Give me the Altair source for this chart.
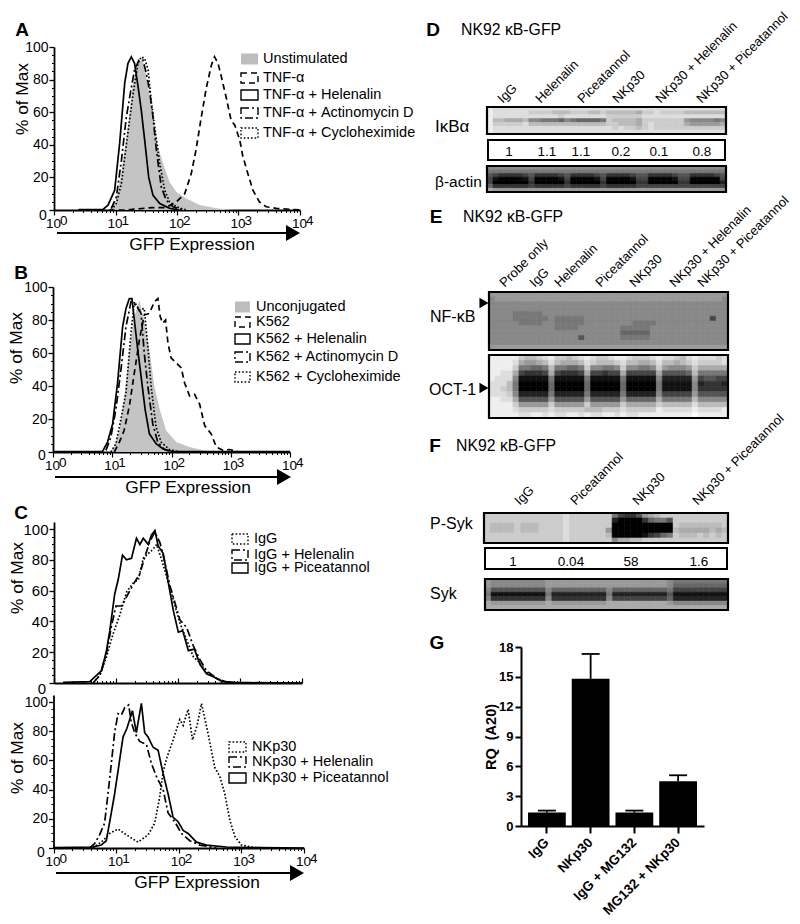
import altair as alt
import pandas as pd

FONT = "Liberation Sans"
W, H = 784, 908
GRAY = "#c4c4c4"
SOLID, DASH, DASHDOT, DOT = [], [6, 4], [8, 3, 2, 3], [1.6, 2]

# ---------- flow histograms: position in decades of GFP, % of max ----------
A_un_d = [0, .88, .95, 1.01, 1.09, 1.20, 1.285, 1.366, 1.436, 1.50, 1.555, 1.62, 1.69, 1.77, 1.88, 1.99, 2.15, 2.37, 2.64, 2.91, 4]
A_un_v = [0, 0, 2, 6, 22, 50, 78, 90, 93, 82, 70, 53, 39, 29, 17, 11, 7, 3, 1, 0, 0]
A_tnf_d = [.4, 1.2, 1.3, 1.6, 1.8, 1.9, 1.99, 2.125, 2.23, 2.31, 2.395, 2.477, 2.56, 2.61, 2.667, 2.72, 2.80, 2.88, 2.94, 3.02, 3.07, 3.155, 3.236, 3.34, 3.45, 3.615, 4.0]
A_tnf_v = [0, 0, .5, 1.5, 1.5, 3, 5, 10, 22, 37, 57, 75, 89, 94, 90, 82, 69, 55, 52, 43, 33, 22, 12, 5, 2, 1, 0]
A_hel_d = [.4, .797, .878, .986, 1.068, 1.15, 1.203, 1.257, 1.31, 1.366, 1.42, 1.474, 1.54, 1.61, 1.72, 1.88, 2.04]
A_hel_v = [.2, .4, 3, 12, 41, 78, 90, 94, 90, 76, 61, 43, 20, 9, 4, 1, 0]
A_act_d = [.932, 1.014, 1.095, 1.176, 1.257, 1.31, 1.382, 1.447, 1.50, 1.555, 1.61, 1.664, 1.745, 1.826, 1.935, 2.10]
A_act_v = [1, 8, 30, 57, 75, 86, 92, 92, 84, 73, 57, 37, 14, 6, 2, 0]
A_chx_d = [.932, 1.014, 1.095, 1.20, 1.285, 1.366, 1.42, 1.474, 1.53, 1.58, 1.637, 1.718, 1.80, 1.88, 1.99, 2.15]
A_chx_v = [0, 4, 16, 47, 71, 90, 94, 93, 86, 67, 51, 29, 12, 5, 2, 0]

B_un_d = [0, .95, 1.034, 1.12, 1.20, 1.29, 1.373, 1.458, 1.54, 1.627, 1.71, 1.80, 1.91, 2.08, 2.305, 2.53, 2.70, 4]
B_un_v = [0, 0, 3, 13, 32, 62, 82, 92, 80, 62, 40, 26, 13, 6, 3, 1, 0, 0]
B_k_d = [1.034, 1.12, 1.20, 1.29, 1.373, 1.458, 1.54, 1.627, 1.71, 1.77, 1.81, 1.853, 1.90, 1.94, 1.994, 2.08, 2.164, 2.22, 2.305, 2.39, 2.475, 2.56, 2.67, 2.757, 2.87, 2.983, 3.15, 4]
B_k_v = [0, 6, 13, 28, 48, 68, 83, 84, 91, 93, 82, 78, 80, 66, 57, 54, 51, 42, 34, 35, 29, 16, 11, 3, 1, 1.5, 0, 0]
B_hel_d = [0, .836, .92, 1.006, 1.09, 1.175, 1.232, 1.288, 1.333, 1.373, 1.43, 1.486, 1.554, 1.627, 1.74, 1.853, 2.02, 4]
B_hel_v = [.3, .3, 6, 17, 42, 76, 87, 93, 93, 80, 62, 46, 26, 11, 5, 2, .3, .3]
B_act_d = [.893, .977, 1.062, 1.147, 1.232, 1.316, 1.40, 1.486, 1.54, 1.60, 1.684, 1.768, 1.88, 2.02]
B_act_v = [1, 9, 26, 50, 76, 91, 89, 84, 60, 40, 17, 6, 1.5, 0]
B_chx_d = [.977, 1.062, 1.147, 1.232, 1.316, 1.373, 1.458, 1.54, 1.60, 1.655, 1.74, 1.825, 1.966, 2.136]
B_chx_v = [0, 5, 20, 36, 72, 91, 86, 87, 64, 40, 15, 6, 1.5, 0]

C1_igg_d = [.63, .74, .846, .954, 1.06, 1.17, 1.278, 1.36, 1.44, 1.52, 1.60, 1.655, 1.736, 1.817, 1.925, 2.03, 2.14, 2.248, 2.356, 2.46, 2.625, 2.787, 3.0]
C1_igg_v = [0, 5, 17, 32, 44, 59, 65, 67, 81, 84, 87, 90, 80, 69, 54, 39, 28, 17, 13, 7, 3, .5, 0]
C1_hel_d = [.63, .74, .846, .927, 1.0, 1.09, 1.17, 1.278, 1.385, 1.466, 1.547, 1.628, 1.71, 1.79, 1.871, 1.952, 2.03, 2.14, 2.248, 2.356, 2.46, 2.625, 2.787, 3.0]
C1_hel_v = [0, 5, 19, 37, 50, 50, 56, 64, 71, 82, 92, 98, 91, 78, 63, 52, 41, 36, 24, 15, 8, 3, .5, 0]
C1_pic_d = [.146, .577, .685, .766, .846, .90, .98, 1.035, 1.105, 1.17, 1.25, 1.33, 1.385, 1.44, 1.52, 1.57, 1.628, 1.68, 1.763, 1.844, 1.925, 2.005, 2.075, 2.167, 2.264, 2.356, 2.46, 2.57, 2.706, 2.895, 3.164, 4]
C1_pic_v = [.4, .9, 5, 8, 21, 34, 58, 67, 83, 80, 81, 94, 90, 94, 90, 96, 99, 89, 84, 65, 47, 33, 34, 21, 22, 12, 6, 4, 1, .4, .2, 0]

C2_nk_d = [.63, .79, .896, 1.03, 1.163, 1.35, 1.51, 1.616, 1.696, 1.75, 1.803, 1.91, 2.016, 2.07, 2.15, 2.22, 2.293, 2.363, 2.47, 2.576, 2.656, 2.736, 2.816, 2.896, 3.0, 3.19, 3.40]
C2_nk_v = [0, 5, 10, 13, 9, 4, 9, 17, 35, 52, 61, 74, 88, 84, 95, 74, 84, 99, 78, 55, 49, 37, 19, 8, 2, .4, 0]
C2_hel_d = [.576, .656, .736, .816, .896, .976, 1.03, 1.083, 1.136, 1.2, 1.243, 1.296, 1.376, 1.483, 1.563, 1.643, 1.75, 1.83, 1.936, 2.043, 2.176, 2.336, 2.6]
C2_hel_v = [0, 3, 9, 17, 47, 79, 92, 91, 96, 98, 86, 79, 73, 71, 58, 49, 40, 24, 18, 10, 5, 2, 0]
C2_pic_d = [0, .63, .763, .843, .923, .976, 1.045, 1.11, 1.173, 1.26, 1.323, 1.403, 1.456, 1.51, 1.59, 1.67, 1.75, 1.83, 1.91, 1.99, 2.07, 2.15, 2.283, 2.443, 2.763, 3.296, 4]
C2_pic_v = [.2, .7, 2, 5, 24, 37, 57, 76, 82, 94, 79, 99, 79, 76, 69, 67, 51, 37, 21, 18, 12, 10, 4, 2, .7, .2, 0]

TICK_V = [1, 10, 100, 1000, 10000]
TICK_E = ["0", "1", "2", "3", "4"]
MINOR_X = [m * 10 ** k for k in range(4) for m in range(2, 10)]
MAJOR_Y = [0, 20, 40, 60, 80, 100]
MINOR_Y = [v for v in range(0, 101, 5) if v % 20]

# ---------- bar chart ----------
G_names = ["IgG", "NKp30", "IgG + MG132", "MG132 + NKp30"]
G_vals = [1.35, 14.8, 1.35, 4.5]
G_upper = [1.55, 17.3, 1.55, 5.1]

# ---------- blots: one hex digit per cell, 0 black to f white ----------
D_IKB = ["e dddddd dddddd ddddddd dddddd ddddddd ddddddd",
         "e dddddd ccccbb bcccbbc bbbbba ccdcccc bbbbbbb",
         "e dddddd dddddc ddddddd cccccc ddddddd ddddddd",
         "e bbaaab 887776 8766667 cbbbba ccccccc 9888878",
         "e cccccd bbbbbb bbbbbbb ccbbba cdccccc a99999a",
         "e dddddd dddddd ddddddd dcdccb cdccccc ccccccc",
         "e dddddd dddddd ddddddd dddddd ddddddd ddddddd"]
D_ACT = ["8 888888 888888 8888888 888888 8888888 8888888",
         "7 777777 777777 7777777 777777 7777777 7777777",
         "5 433334 533334 5333345 333345 5333345 5333345",
         "4 100001 400001 4000014 000014 4000014 4000004",
         "4 000000 300000 3000003 000003 3000003 3000002",
         "6 333333 433333 4333334 333334 4444444 4444444",
         "a 999999 999999 9999999 999999 9999999 9999999"]
E_NF = ["9999999999999999999999999999999999999999",
        "8999999999999999999999999999999999999998",
        "8888888888888888888888888888888888888888",
        "8888888888888888888888888888888888888888",
        "8888777778888888888888888888888888888888",
        "8888777777877777888888888888888888888488",
        "8888877778877777888888887777888888888888",
        "8888888888877778888888777778888888888888",
        "8888888888888888888888666668888888888888",
        "8888888888888885888888777778888888888888",
        "8888888888888888888888888888888888888888",
        "9999999999999999999999999999999999999999"]
E_OCT = ["eeee e cbbcd e ccbcd e dccde e dcccd e ddcbd e dddcd",
         "eeee d a99ab d baaab d cbbbc d bbaab d bbabc d ccccd",
         "eeee c 77667 b 77667 c 88778 c 88778 c 98889 c aaaaa",
         "eedd a 43334 a 43334 a 44344 a 44444 a 55556 b 77777",
         "eddd 8 11111 7 11111 7 11111 7 11111 8 22222 9 45544",
         "dddb 7 00000 6 00000 6 00000 6 00000 7 11111 8 23332",
         "ddcb 7 00000 6 00000 6 00000 6 00000 7 11111 8 33333",
         "dddc 8 22222 7 22222 7 22222 7 22222 8 44444 9 55555",
         "eedd a 55555 9 55555 9 55555 9 66666 a 77777 b 88888",
         "eeee c 99999 c 99999 c 99999 c aaaaa c bbbbb d bbbbb",
         "eeee d ccccc d ccccc b bbccc d ccccc e ddddd e dddde",
         "eeee e ddeed e ddeed e ddeed e ddeee e eeeee f eeeee"]
F_PSYK = ["ccccccccccccc d ccccccc 74335 9abcc ccccccccc",
          "ccccccccccccc d ccccccc 20000 36775 ccccccccc",
          "cbbbbcbbbcccc d ccccccc 00000 00000 cbbbbbbbc",
          "cbbbbcbbbcccc d cccccc9 00000 00000 baaaaabab",
          "ccccccccccccc d ccccccb 00000 13467 cbbbcbcbc",
          "ccccccccccccc d ccccccc 8aabb ccccc ccccccccc"]
F_SYK = ["9 888888888 9 999999999 9 999999999 8 777777777",
         "9 888888888 9 999999999 9 999999999 8 666666666",
         "8 555555555 8 666666666 8 666666666 7 444444444",
         "7 111111111 7 222222222 7 222222222 5 111111111",
         "8 333333333 8 333333333 8 444444444 6 222222222",
         "a 999999999 a 999999999 a aaaaaaaaa 9 888888888",
         "a aaaaaaaaa a aaaaaaaaa a aaaaaaaaa a aaaaaaaaa"]

ONE = pd.DataFrame({"a": [1]})
layers = []


def px(v):
    return v - 8


def text(t, x, y, size=14, weight="normal", align="left", angle=0):
    layers.append(alt.Chart(pd.DataFrame({"t": [t]})).mark_text(
        font=FONT, fontSize=size, fontWeight=weight, align=align, baseline="middle",
        angle=angle, color="black").encode(text="t:N", x=alt.value(px(x)), y=alt.value(px(y))))


def box(x0, x1, y0, y1, sw=2, dash=None, fill=None):
    kw = {"strokeWidth": sw, "stroke": "black", "fillOpacity": 0}
    if dash:
        kw["strokeDash"] = dash
    if fill:
        kw = {"fill": fill}
    layers.append(alt.Chart(ONE).mark_rect(**kw).encode(
        x=alt.value(px(x0)), x2=alt.value(px(x1)), y=alt.value(px(y0)), y2=alt.value(px(y1))))


def marker(x, y, shape, size):
    layers.append(alt.Chart(ONE).mark_point(shape=shape, filled=True, size=size, color="black", opacity=1).encode(
        x=alt.value(px(x)), y=alt.value(px(y))))


def arrow(x0, x1, tip, y):
    layers.append(alt.Chart(ONE).mark_rule(color="black", strokeWidth=1.8).encode(
        x=alt.value(px(x0)), x2=alt.value(px(x1)), y=alt.value(px(y))))
    marker(tip, y, "triangle-right", 260)


def flow_panel(series, x0, x1, y0, y100, ytop=None, top_ticks=False, size=14):
    ymax = 100 if ytop is None else 100 * (y0 - ytop) / (y0 - y100)
    ys = alt.Scale(domain=[0, ymax], range=[px(y0), px(y100 if ytop is None else ytop)])
    xs = alt.Scale(type="log", domain=[1, 10000], range=[px(x0), px(x1)])
    ori = "top" if top_ticks else "bottom"
    xoff = -px(y0) if top_ticks else -(H - px(y0))
    for i, (d, v, dash, kind) in enumerate(series):
        df = pd.DataFrame({"x": [10 ** k for k in d], "y": v})
        xax, yax = None, None
        if i == 0:
            xax = alt.Axis(orient=ori, offset=xoff, values=TICK_V, labels=False, title=None, grid=False,
                           tickSize=5, tickWidth=1.2, domainWidth=1.8, tickColor="black", domainColor="black")
            yax = alt.Axis(orient="left", offset=-px(x0), values=MAJOR_Y, title=None, grid=False, tickSize=5,
                           tickWidth=1.3, domainWidth=1.8, labelFont=FONT, labelFontSize=size, labelColor="black",
                           labelPadding=1, tickColor="black", domainColor="black",
                           labelExpr="datum.value == 0 ? '' : datum.label")
        elif i == 1:
            xax = alt.Axis(orient=ori, offset=xoff, values=MINOR_X, labels=False, title=None, grid=False,
                           domain=False, tickSize=2.5, tickWidth=1, tickColor="black")
            yax = alt.Axis(orient="left", offset=-px(x0), values=MINOR_Y, labels=False, title=None, grid=False,
                           domain=False, tickSize=2.5, tickWidth=1, tickColor="black")
        enc = dict(x=alt.X("x:Q", scale=xs, axis=xax), y=alt.Y("y:Q", scale=ys, axis=yax))
        if kind == "area":
            m = alt.Chart(df).mark_area(color=GRAY, opacity=1, interpolate="linear")
        else:
            mk = {"color": "black", "strokeWidth": 1.7}
            if dash:
                mk["strokeDash"] = dash
            m = alt.Chart(df).mark_line(**mk)
        layers.append(m.encode(**enc))
    if not top_ticks:
        tk = pd.DataFrame({"v": TICK_V, "e": TICK_E})
        xn = alt.X("v:Q", scale=xs, axis=None)
        ylab = y0 + 14
        layers.append(alt.Chart(tk).transform_calculate(b="'10'").mark_text(
            font=FONT, fontSize=13.5, align="right", dx=7, color="black").encode(
            x=xn, y=alt.value(px(ylab)), text="b:N"))
        layers.append(alt.Chart(tk).mark_text(
            font=FONT, fontSize=13.5, align="left", dx=6, dy=-3, color="black").encode(
            x=xn, y=alt.value(px(ylab)), text="e:N"))


def legend(rows, sx0, sx1, tx, size=14.5):
    for label, style, yc in rows:
        if style == "fill":
            box(sx0, sx1, yc - 5.5, yc + 5.5, fill="#bdbdbd")
        else:
            box(sx0, sx1, yc - 5, yc + 5, sw=1.4, dash=style)
        text(label, tx, yc, size=size)


def blot(rows, x0, x1, y0, y1):
    rows = [r.replace(" ", "") for r in rows]
    n = max(len(r) for r in rows)
    recs = []
    for j, r in enumerate(rows):
        for i, ch in enumerate(r.ljust(n, r[-1])):
            g = int(ch, 16) * 17
            recs.append({"c": i, "r": j, "g": "#%02x%02x%02x" % (g, g, g)})
    df = pd.DataFrame(recs)
    layers.append(alt.Chart(df).mark_rect(strokeWidth=0.6).encode(
        x=alt.X("c:O", axis=None, scale=alt.Scale(range=[px(x0), px(x1)], paddingInner=0, paddingOuter=0)),
        y=alt.Y("r:O", axis=None, scale=alt.Scale(range=[px(y0), px(y1)], paddingInner=0, paddingOuter=0)),
        color=alt.Color("g:N", scale=None), stroke=alt.Stroke("g:N", scale=None)))
    box(x0, x1, y0, y1, sw=2.2)


def rotated(items, y):
    for label, x in items:
        text(label, x, y, size=13, angle=315)


LET = 19
YT = 17.3
GT = 17.3

# ---------- A ----------
flow_panel([(A_un_d, A_un_v, None, "area"), (A_hel_d, A_hel_v, SOLID, "line"), (A_tnf_d, A_tnf_v, DASH, "line"),
            (A_act_d, A_act_v, DASHDOT, "line"), (A_chx_d, A_chx_v, DOT, "line")], 54, 300, 210, 47)
text("A", 22, 30, size=LET, weight="bold", align="center")
text("% of Max", 23, 99, size=YT, align="center", angle=270)
text("0", 43, 216, size=14, align="center")
arrow(57, 288, 293, 233)
text("GFP Expression", 192, 245, size=GT, align="center")
legend([("Unstimulated", "fill", 59), ("TNF-α", DASH, 78), ("TNF-α + Helenalin", SOLID, 95),
        ("TNF-α + Actinomycin D", DASHDOT, 113), ("TNF-α + Cycloheximide", DOT, 133)], 241, 258, 263)

# ---------- B ----------
flow_panel([(B_un_d, B_un_v, None, "area"), (B_hel_d, B_hel_v, SOLID, "line"), (B_k_d, B_k_v, DASH, "line"),
            (B_act_d, B_act_v, DASHDOT, "line"), (B_chx_d, B_chx_v, DOT, "line")], 53, 290, 452, 287)
text("B", 21, 273, size=LET, weight="bold", align="center")
text("% of Max", 17, 348, size=YT, align="center", angle=270)
text("0", 42, 456, size=14, align="center")
arrow(55, 278, 284, 477)
text("GFP Expression", 188, 488, size=GT, align="center")
legend([("Unconjugated", "fill", 307), ("K562", DASH, 322), ("K562 + Helenalin", SOLID, 339),
        ("K562 + Actinomycin D", DASHDOT, 357), ("K562 + Cycloheximide", DOT, 377)], 235, 250, 256)

# ---------- C ----------
flow_panel([(C1_pic_d, C1_pic_v, SOLID, "line"), (C1_igg_d, C1_igg_v, DOT, "line"), (C1_hel_d, C1_hel_v, DASHDOT, "line")],
           54, 302, 683, 529, ytop=522, top_ticks=True, size=15)
text("C", 21, 513, size=LET, weight="bold", align="center")
text("% of Max", 18, 578, size=YT, align="center", angle=270)
text("0", 42, 689, size=15, align="center")
legend([("IgG", DOT, 539), ("IgG + Helenalin", DASHDOT, 555), ("IgG + Piceatannol", SOLID, 568)], 232, 248, 254)

flow_panel([(C2_pic_d, C2_pic_v, SOLID, "line"), (C2_nk_d, C2_nk_v, DOT, "line"), (C2_hel_d, C2_hel_v, DASHDOT, "line")],
           53.5, 304, 848, 702, ytop=695)
text("% of Max", 18, 758, size=YT, align="center", angle=270)
text("0", 41, 853, size=14, align="center")
arrow(56, 291, 297, 873)
text("GFP Expression", 197, 883, size=GT, align="center")
legend([("NKp30", DOT, 747), ("NKp30 + Helenalin", DASHDOT, 762), ("NKp30 + Piceatannol", SOLID, 778)], 229, 246, 252)

# ---------- D ----------
text("D", 433, 30, size=LET, weight="bold", align="center")
text("NK92 κB-GFP", 461, 30, size=15.8)
rotated([("IgG", 500), ("Helenalin", 538), ("Piceatannol", 580), ("NKp30", 615),
         ("NKp30 + Helenalin", 658), ("NKp30 + Piceatannol", 699)], 101)
blot(D_IKB, 487, 726, 107, 134)
box(488, 725, 140, 160)
for val, x in zip(["1", "1.1", "1.1", "0.2", "0.1", "0.8"], [509, 547, 581, 621, 659, 702]):
    text(val, x, 152, size=13.5, align="center")
blot(D_ACT, 487, 726, 166, 192)
text("IκBα", 435, 127, size=17)
text("β-actin", 435, 182, size=15.5)

# ---------- E ----------
text("E", 436, 217, size=LET, weight="bold", align="center")
text("NK92 κB-GFP", 463, 217, size=15.8)
rotated([("Probe only", 502), ("IgG", 532), ("Helenalin", 557), ("Piceatannol", 598), ("NKp30", 632),
         ("NKp30 + Helenalin", 672), ("NKp30 + Piceatannol", 700)], 285)
blot(E_NF, 489, 728, 292, 350)
blot(E_OCT, 489, 728, 355, 418)
text("NF-κB", 430, 317, size=16)
text("OCT-1", 429, 390, size=16)
marker(484, 303, "triangle-right", 110)
marker(484, 388, "triangle-right", 110)

# ---------- F ----------
text("F", 435, 446, size=LET, weight="bold", align="center")
text("NK92 κB-GFP", 456, 446, size=15.8)
rotated([("IgG", 517), ("Piceatannol", 573), ("NKp30", 635), ("NKp30 + Piceatannol", 695)], 503)
blot(F_PSYK, 484, 728, 513, 543)
box(485, 727, 548, 569)
for val, x in zip(["1", "0.04", "58", "1.6"], [513, 571, 631, 699]):
    text(val, x, 562, size=13.5, align="center")
blot(F_SYK, 485, 728, 579, 610)
text("P-Syk", 430, 524, size=16)
text("Syk", 430, 594, size=16)

# ---------- G ----------
G_df = pd.DataFrame({"n": G_names, "v": G_vals, "u": G_upper})
gx = alt.Scale(domain=G_names, range=[px(521), px(704)], paddingInner=0.136, paddingOuter=0.16)
gy = alt.Scale(domain=[0, 18], range=[px(826), px(647)])
G_x_axis = alt.Axis(orient="bottom", offset=-(H - px(826)), labelAngle=315, labelAlign="right", labelBaseline="middle",
                    labelFont=FONT, labelFontSize=13.5, labelFontWeight="bold", labelColor="black", labelPadding=7,
                    tickSize=7, tickWidth=2, domainWidth=2, tickColor="black", domainColor="black", title=None,
                    labelOverlap=False)
G_y_axis = alt.Axis(orient="left", offset=-px(521), values=[0, 3, 6, 9, 12, 15, 18], labelFont=FONT, labelFontSize=13,
                    labelFontWeight="bold", labelColor="black", tickSize=6, tickWidth=2, domainWidth=2,
                    tickColor="black", domainColor="black", title=None, grid=False, labelPadding=2)
layers.append(alt.Chart(G_df).mark_rule(color="black", strokeWidth=1.8).encode(
    x=alt.X("n:N", scale=gx, axis=None, sort=G_names), y=alt.Y("v:Q", scale=gy, axis=None), y2="u:Q"))
layers.append(alt.Chart(G_df).mark_tick(color="black", size=18, thickness=1.8, orient="horizontal", opacity=1).encode(
    x=alt.X("n:N", scale=gx, axis=None, sort=G_names), y=alt.Y("u:Q", scale=gy, axis=None)))
layers.append(alt.Chart(G_df).mark_bar(color="black").encode(
    x=alt.X("n:N", scale=gx, axis=G_x_axis, sort=G_names), y=alt.Y("v:Q", scale=gy, axis=G_y_axis)))
text("G", 437, 643, size=LET, weight="bold", align="center")
text("RQ\u00a0\u00a0(A20)", 492, 737, size=14.5, weight="bold", align="center", angle=270)

chart = alt.layer(*layers).resolve_scale(x="independent", y="independent").resolve_axis(
    x="independent", y="independent").properties(
    width=W, height=H, padding=0, autosize=alt.AutoSizeParams(type="none"), background="white"
).configure_view(stroke=None)

chart.save("out.html", embed_options={"renderer": "svg", "actions": False})
